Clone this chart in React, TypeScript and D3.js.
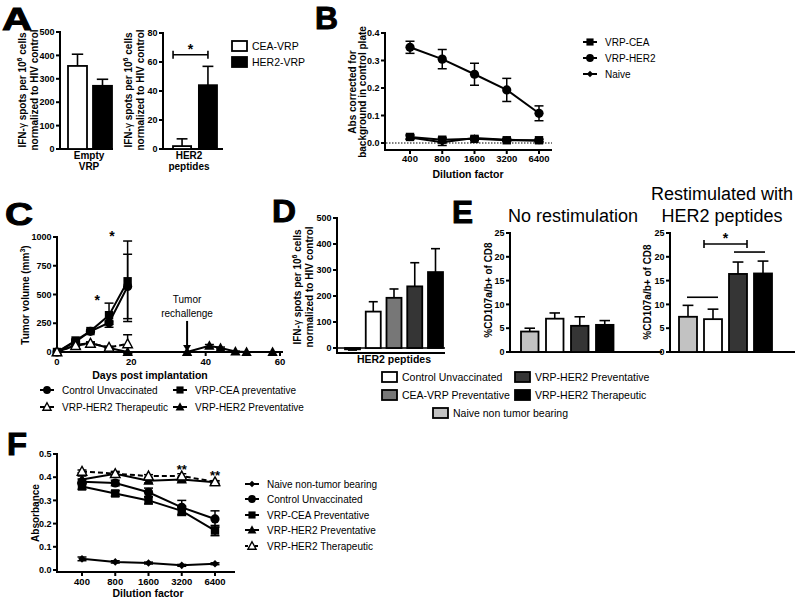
import React from 'react';
import * as d3 from 'd3';

const FONT = "'Liberation Sans', Arial, Helvetica, sans-serif";

// ---------- Panel A ----------
const aSeries = ['CEA-VRP', 'HER2-VRP'];
const aSeriesFill = ['#ffffff', '#000000'];
const aEmptyVRP = [355, 270];
const aEmptyVRPErr = [50, 28];
const aHER2Pep = [2, 44];
const aHER2PepErr = [5, 13];
const aLeftTicks = [0, 100, 200, 300, 400, 500];
const aRightTicks = [0, 20, 40, 60, 80];
const aSigValue = [65];

// ---------- Panel B ----------
const dilutions = ['400', '800', '1600', '3200', '6400'];
const bCEA = [0.022, 0.012, 0.015, 0.010, 0.010];
const bCEAErr = [0.008, 0.008, 0.005, 0.005, 0.005];
const bHER2 = [0.348, 0.305, 0.250, 0.193, 0.108];
const bHER2Err = [0.022, 0.035, 0.040, 0.042, 0.027];
const bNaive = [0.020, 0.003, 0.018, 0.012, 0.008];
const bNaiveErr = [0.006, 0.012, 0.006, 0.005, 0.004];
const bTicks = [0, 0.1, 0.2, 0.3, 0.4];
const bLegend = ['VRP-CEA', 'VRP-HER2', 'Naive'];

// ---------- Panel C ----------
const cDaysEarly = [0, 5, 9, 14, 19];
const cControl = [0, 90, 180, 255, 570];
const cControlErr = [0, 10, 10, 15, 280];
const cCEA = [0, 100, 182, 320, 615];
const cCEAErr = [0, 12, 10, 105, 350];
const cTher = [0, 55, 75, 40, 70];
const cTherErr = [0, 6, 10, 10, 80];
const cPrevDays = [0, 5, 9, 14, 19, 35, 41, 44, 48, 51, 58];
const cPrev = [0, 60, 78, 35, 0, 0, 55, 35, 5, 0, 0];
const cPrevErr = [0, 8, 10, 8, 0, 0, 10, 8, 3, 0, 0];
const cXTicks = [0, 20, 40, 60];
const cYTicks = [0, 250, 500, 750, 1000];
const cStarDays = [10.8, 14.8];
const cStarVals = [480, 1035];
const cRechallenge = [35];
const cLegend = ['Control Unvaccinated', 'VRP-CEA preventative', 'VRP-HER2 Therapeutic', 'VRP-HER2 Preventative'];

// ---------- Panel D ----------
const groups = ['Naive non tumor bearing', 'Control Unvaccinated', 'CEA-VRP Preventative', 'VRP-HER2 Preventative', 'VRP-HER2 Therapeutic'];
const groupFill = ['#c2c2c2', '#ffffff', '#777777', '#353535', '#000000'];
const dValues = [-5, 140, 193, 237, 292];
const dErr = [3, 38, 34, 91, 90];
const dTicks = [0, 100, 200, 300, 400, 500];

// ---------- Panel E ----------
const eGroups = ['Naive non tumor bearing', 'Control Unvaccinated', 'VRP-HER2 Preventative', 'VRP-HER2 Therapeutic'];
const eNoRestim = [4.3, 7.0, 5.5, 5.7];
const eNoRestimErr = [0.7, 1.2, 1.9, 0.9];
const eRestim = [7.4, 6.9, 16.4, 16.5];
const eRestimErr = [2.4, 2.1, 2.5, 2.6];
const eTicks = [0, 5, 10, 15, 20, 25];
const eSigValues = [22.7, 21, 11.5];

// ---------- Panel F ----------
const fNaive = [0.048, 0.035, 0.030, 0.020, 0.027];
const fNaiveErr = [0.008, 0.005, 0.004, 0.004, 0.004];
const fControl = [0.380, 0.375, 0.335, 0.270, 0.220];
const fControlErr = [0.012, 0.012, 0.018, 0.030, 0.035];
const fCEA = [0.360, 0.330, 0.300, 0.255, 0.170];
const fCEAErr = [0.012, 0.012, 0.015, 0.020, 0.022];
const fHER2Prev = [0.390, 0.415, 0.385, 0.390, 0.378];
const fHER2PrevErr = [0.015, 0.010, 0.010, 0.010, 0.006];
const fHER2Ther = [0.425, 0.415, 0.405, 0.405, 0.380];
const fHER2TherErr = [0.006, 0.006, 0.006, 0.010, 0.005];
const fTicks = [0, 0.1, 0.2, 0.3, 0.4, 0.5];
const fStarDil = ['3200', '6400'];
const fStarVals = [0.447, 0.422];
const fLegend = ['Naive non-tumor bearing', 'Control Unvaccinated', 'VRP-CEA Preventative', 'VRP-HER2 Preventative', 'VRP-HER2 Therapeutic'];

type MarkerType = 'circle' | 'square' | 'tri' | 'triOpen' | 'diamond';

function Marker({ type, x, y, s = 1 }: { type: MarkerType; x: number; y: number; s?: number }) {
  if (type === 'circle') return <circle cx={x} cy={y} r={4.6 * s} fill="#000" />;
  if (type === 'square') return <rect x={x - 4.2 * s} y={y - 4.2 * s} width={8.4 * s} height={8.4 * s} fill="#000" />;
  if (type === 'tri') return <path d={`M${x},${y - 5.5 * s}L${x + 5.2 * s},${y + 4 * s}L${x - 5.2 * s},${y + 4 * s}Z`} fill="#000" />;
  if (type === 'triOpen') return <path d={`M${x},${y - 5 * s}L${x + 4.8 * s},${y + 3.8 * s}L${x - 4.8 * s},${y + 3.8 * s}Z`} fill="#fff" stroke="#000" strokeWidth={1.4} />;
  return <path d={`M${x},${y - 3.8 * s}L${x + 3.8 * s},${y}L${x},${y + 3.8 * s}L${x - 3.8 * s},${y}Z`} fill="#000" />;
}

function YAxis({ x, scale, ticks, fmt, bottom }: { x: number; scale: d3.ScaleLinear<number, number>; ticks: number[]; fmt: (v: number) => string; bottom?: number }) {
  const top = scale(ticks[ticks.length - 1]);
  const bot = bottom ?? scale(ticks[0]);
  return (
    <g>
      <line x1={x} x2={x} y1={top - 1} y2={bot + 1} stroke="#000" strokeWidth={2} />
      {ticks.map((t) => (
        <g key={t}>
          <line x1={x - 4} x2={x} y1={scale(t)} y2={scale(t)} stroke="#000" strokeWidth={2} />
          <text x={x - 5.5} y={scale(t)} dy="0.36em" textAnchor="end" fontSize={9} fontWeight="bold">{fmt(t)}</text>
        </g>
      ))}
    </g>
  );
}

function XLine({ y, x0, x1 }: { y: number; x0: number; x1: number }) {
  return <line x1={x0} x2={x1} y1={y} y2={y} stroke="#000" strokeWidth={2} />;
}

function XTicks({ y, positions, labels, labelDy = 12 }: { y: number; positions: number[]; labels: string[]; labelDy?: number }) {
  return (
    <g>
      {positions.map((p, i) => (
        <g key={i}>
          <line x1={p} x2={p} y1={y} y2={y + 4} stroke="#000" strokeWidth={2} />
          <text x={p} y={y + labelDy} textAnchor="middle" fontSize={9.5} fontWeight="bold">{labels[i]}</text>
        </g>
      ))}
    </g>
  );
}

function RotTitle({ x, y, children, size = 10 }: { x: number; y: number; children: React.ReactNode; size?: number }) {
  return (
    <text transform={`translate(${x},${y}) rotate(-90)`} textAnchor="middle" fontSize={size} fontWeight="bold">{children}</text>
  );
}

function Bars({ xScale, yScale, cats, values, errs, fills }: { xScale: d3.ScaleBand<string>; yScale: d3.ScaleLinear<number, number>; cats: string[]; values: number[]; errs: number[]; fills: string[] }) {
  const w = xScale.bandwidth();
  return (
    <g>
      {cats.map((c, i) => {
        const x = xScale(c) as number;
        const y0 = yScale(0);
        const y1 = yScale(values[i]);
        const ey = values[i] >= 0 ? yScale(values[i] + errs[i]) : yScale(values[i] - errs[i]);
        const cx = x + w / 2;
        return (
          <g key={c}>
            <line x1={cx} x2={cx} y1={y1} y2={ey} stroke="#000" strokeWidth={1.6} />
            <line x1={cx - w * 0.3} x2={cx + w * 0.3} y1={ey} y2={ey} stroke="#000" strokeWidth={1.6} />
            <rect x={x} y={Math.min(y0, y1)} width={w} height={Math.max(Math.abs(y1 - y0), 1)} fill={fills[i]} stroke="#000" strokeWidth={1.8} />
          </g>
        );
      })}
    </g>
  );
}

function Series({ px, ys, errs, yScale, marker, dashed, ms = 1 }: { px: number[]; ys: number[]; errs: number[]; yScale: d3.ScaleLinear<number, number>; marker: MarkerType; dashed?: boolean; ms?: number }) {
  const line = d3.line<number>().x((_, i) => px[i]).y((d) => yScale(d));
  return (
    <g>
      {ys.map((v, i) =>
        errs[i] > 0 ? (
          <g key={'e' + i}>
            <line x1={px[i]} x2={px[i]} y1={yScale(v - errs[i])} y2={yScale(v + errs[i])} stroke="#000" strokeWidth={1.5} />
            <line x1={px[i] - 4.5} x2={px[i] + 4.5} y1={yScale(v - errs[i])} y2={yScale(v - errs[i])} stroke="#000" strokeWidth={1.5} />
            <line x1={px[i] - 4.5} x2={px[i] + 4.5} y1={yScale(v + errs[i])} y2={yScale(v + errs[i])} stroke="#000" strokeWidth={1.5} />
          </g>
        ) : null
      )}
      <path d={line(ys) || ''} fill="none" stroke="#000" strokeWidth={2} strokeDasharray={dashed ? '5,3' : undefined} />
      {ys.map((v, i) => (
        <Marker key={'m' + i} type={marker} x={px[i]} y={yScale(v)} s={ms} />
      ))}
    </g>
  );
}

function LineLegendItem({ x, y, marker, label, dashed, ms = 1, size = 10 }: { x: number; y: number; marker: MarkerType; label: string; dashed?: boolean; ms?: number; size?: number }) {
  return (
    <g>
      <line x1={x - 7} x2={x + 7} y1={y} y2={y} stroke="#000" strokeWidth={2} strokeDasharray={dashed ? '3,2' : undefined} />
      <Marker type={marker} x={x} y={y} s={ms * 0.85} />
      <text x={x + 15} y={y} dy="0.35em" fontSize={size}>{label}</text>
    </g>
  );
}

function BoxLegendItem({ x, y, fill, label }: { x: number; y: number; fill: string; label: string }) {
  return (
    <g>
      <rect x={x} y={y - 5} width={15} height={10} fill={fill} stroke="#000" strokeWidth={1.8} />
      <text x={x + 20} y={y} dy="0.35em" fontSize={10.5}>{label}</text>
    </g>
  );
}

function Letter({ x, y, ch, w }: { x: number; y: number; ch: string; w: number }) {
  return (
    <text x={x} y={y} fontSize={32} fontWeight={900} stroke="#000" strokeWidth={1} textLength={w} lengthAdjust="spacingAndGlyphs">{ch}</text>
  );
}

export default function App() {
  // ----- A -----
  const aY1 = d3.scaleLinear().domain([0, 500]).range([149, 32]);
  const aX1 = d3.scaleBand<string>().domain(aSeries).range([68, 112]).paddingInner(0.24).paddingOuter(0);
  const aY2 = d3.scaleLinear().domain([0, 80]).range([149, 33]);
  const aX2 = d3.scaleBand<string>().domain(aSeries).range([173, 217]).paddingInner(0.3).paddingOuter(0);
  const aBr0 = (aX2(aSeries[0]) as number) + aX2.bandwidth() / 2 + 3;
  const aBr1 = (aX2(aSeries[1]) as number) + aX2.bandwidth() / 2;

  // ----- B -----
  const bY = d3.scaleLinear().domain([0, 0.4]).range([143, 33]);
  const bX = d3.scalePoint<string>().domain(dilutions).range([410, 539]);
  const bPx = dilutions.map((d) => bX(d) as number);

  // ----- C -----
  const cY = d3.scaleLinear().domain([0, 1000]).range([352, 237]);
  const cX = d3.scaleLinear().domain([0, 60]).range([57, 280]);

  // ----- D -----
  const dY = d3.scaleLinear().domain([0, 500]).range([348, 218]);
  const dX = d3.scaleBand<string>().domain(groups).range([345, 443]).paddingInner(0.277).paddingOuter(0);

  // ----- E -----
  const eY1 = d3.scaleLinear().domain([0, 25]).range([352, 233]);
  const eX1 = d3.scaleBand<string>().domain(eGroups).range([521, 613.5]).paddingInner(0.3).paddingOuter(0);
  const eY2 = d3.scaleLinear().domain([0, 25]).range([352, 233]);
  const eX2 = d3.scaleBand<string>().domain(eGroups).range([679, 772]).paddingInner(0.28).paddingOuter(0);
  const eFill = eGroups.map((g) => groupFill[groups.indexOf(g)]);
  const eC = (i: number) => (eX2(eGroups[i]) as number) + eX2.bandwidth() / 2;

  // ----- F -----
  const fY = d3.scaleLinear().domain([0, 0.5]).range([570, 454]);
  const fX = d3.scalePoint<string>().domain(dilutions).range([82, 215]);
  const fPx = dilutions.map((d) => fX(d) as number);

  const fmt0 = d3.format('d');
  const fmt1 = d3.format('.1f');

  return (
    <svg width={800} height={600} style={{ position: 'absolute', left: 0, top: 0, background: '#fff' }} fontFamily={FONT}>
      <rect x={0} y={0} width={800} height={600} fill="#fff" />

      {/* ================= A ================= */}
      <Letter x={2} y={30} ch="A" w={30} />
      <YAxis x={60} scale={aY1} ticks={aLeftTicks} fmt={fmt0} />
      <XLine y={149} x0={60} x1={113} />
      <Bars xScale={aX1} yScale={aY1} cats={aSeries} values={aEmptyVRP} errs={aEmptyVRPErr} fills={aSeriesFill} />
      <text x={89} y={159} textAnchor="middle" fontSize={10} fontWeight="bold">Empty</text>
      <text x={89} y={170} textAnchor="middle" fontSize={10} fontWeight="bold">VRP</text>
      <RotTitle x={26} y={90}>IFN-<tspan fontWeight="normal">γ</tspan> spots per 10<tspan dy={-4} fontSize={7}>6</tspan><tspan dy={4}> cells</tspan></RotTitle>
      <RotTitle x={37.5} y={90}>normalized to HIV control</RotTitle>

      <YAxis x={163} scale={aY2} ticks={aRightTicks} fmt={fmt0} />
      <XLine y={149} x0={163} x1={223} />
      <Bars xScale={aX2} yScale={aY2} cats={aSeries} values={aHER2Pep} errs={aHER2PepErr} fills={aSeriesFill} />
      <line x1={aBr0 - 12} x2={aBr1} y1={aY2(aSigValue[0])} y2={aY2(aSigValue[0])} stroke="#000" strokeWidth={1.6} />
      <line x1={aBr0 - 12} x2={aBr0 - 12} y1={aY2(aSigValue[0]) - 4} y2={aY2(aSigValue[0]) + 4} stroke="#000" strokeWidth={1.6} />
      <line x1={aBr1} x2={aBr1} y1={aY2(aSigValue[0]) - 4} y2={aY2(aSigValue[0]) + 4} stroke="#000" strokeWidth={1.6} />
      <text x={(aBr0 - 12 + aBr1) / 2} y={aY2(aSigValue[0]) - 1} textAnchor="middle" fontSize={14} fontWeight="bold">*</text>
      <text x={189} y={159} textAnchor="middle" fontSize={10} fontWeight="bold">HER2</text>
      <text x={189} y={170} textAnchor="middle" fontSize={10} fontWeight="bold">peptides</text>
      <RotTitle x={132} y={90}>IFN-<tspan fontWeight="normal">γ</tspan> spots per 10<tspan dy={-4} fontSize={7}>6</tspan><tspan dy={4}> cells</tspan></RotTitle>
      <RotTitle x={143.5} y={90}>normalized to HIV control</RotTitle>

      {aSeries.map((s, i) => (
        <BoxLegendItem key={s} x={232} y={46 + i * 16} fill={aSeriesFill[i]} label={s} />
      ))}

      {/* ================= B ================= */}
      <Letter x={315} y={29} ch="B" w={23} />
      <YAxis x={385} scale={bY} ticks={bTicks} fmt={fmt1} bottom={150} />
      <XLine y={150} x0={385} x1={552} />
      <line x1={386} x2={552} y1={bY(0)} y2={bY(0)} stroke="#000" strokeWidth={1} strokeDasharray="1.5,1.5" />
      <XTicks y={150} positions={bPx} labels={dilutions} />
      <text x={468} y={178} textAnchor="middle" fontSize={10.5} fontWeight="bold">Dilution factor</text>
      <RotTitle x={356} y={92}>Abs corrected for</RotTitle>
      <RotTitle x={366} y={92}>background in control plate</RotTitle>
      <Series px={bPx} ys={bNaive} errs={bNaiveErr} yScale={bY} marker="diamond" />
      <Series px={bPx} ys={bCEA} errs={bCEAErr} yScale={bY} marker="square" />
      <Series px={bPx} ys={bHER2} errs={bHER2Err} yScale={bY} marker="circle" />
      <LineLegendItem x={590} y={42} marker="square" label={bLegend[0]} />
      <LineLegendItem x={590} y={58} marker="circle" label={bLegend[1]} />
      <LineLegendItem x={590} y={74} marker="diamond" label={bLegend[2]} />

      {/* ================= C ================= */}
      <Letter x={5} y={225} ch="C" w={28} />
      <YAxis x={57} scale={cY} ticks={cYTicks} fmt={fmt0} />
      <XLine y={352} x0={57} x1={283} />
      <XTicks y={352} positions={cXTicks.map((d) => cX(d))} labels={cXTicks.map((d) => fmt0(d))} labelDy={13} />
      <text x={150} y={379} textAnchor="middle" fontSize={10.5} fontWeight="bold">Days post implantation</text>
      <RotTitle x={29} y={295}>Tumor volume (mm<tspan dy={-4} fontSize={7}>3</tspan><tspan dy={4}>)</tspan></RotTitle>
      <Series px={cDaysEarly.map((d) => cX(d))} ys={cControl} errs={cControlErr} yScale={cY} marker="circle" />
      <Series px={cDaysEarly.map((d) => cX(d))} ys={cCEA} errs={cCEAErr} yScale={cY} marker="square" />
      <Series px={cPrevDays.map((d) => cX(d))} ys={cPrev} errs={cPrevErr} yScale={cY} marker="tri" />
      <Series px={cDaysEarly.map((d) => cX(d))} ys={cTher} errs={cTherErr} yScale={cY} marker="triOpen" dashed />
      {cStarDays.map((d, i) => (
        <text key={i} x={cX(d)} y={cY(cStarVals[i]) + 8} textAnchor="middle" fontSize={14} fontWeight="bold">*</text>
      ))}
      <line x1={cX(cRechallenge[0])} x2={cX(cRechallenge[0])} y1={cY(270)} y2={cY(40)} stroke="#000" strokeWidth={2} />
      <path d={`M${cX(cRechallenge[0]) - 4},${cY(60)}L${cX(cRechallenge[0]) + 4},${cY(60)}L${cX(cRechallenge[0])},${cY(5)}Z`} fill="#000" />
      <text x={cX(cRechallenge[0])} y={303} textAnchor="middle" fontSize={10}>Tumor</text>
      <text x={cX(cRechallenge[0])} y={317} textAnchor="middle" fontSize={10}>rechallenge</text>
      <LineLegendItem x={47} y={390} marker="circle" label={cLegend[0]} />
      <LineLegendItem x={180} y={390} marker="square" label={cLegend[1]} />
      <LineLegendItem x={47} y={407} marker="triOpen" label={cLegend[2]} />
      <LineLegendItem x={180} y={407} marker="tri" label={cLegend[3]} />

      {/* ================= D ================= */}
      <Letter x={272} y={222} ch="D" w={24} />
      <YAxis x={337} scale={dY} ticks={dTicks} fmt={fmt0} bottom={353} />
      <XLine y={353} x0={337} x1={445} />
      <line x1={337} x2={445} y1={dY(0)} y2={dY(0)} stroke="#000" strokeWidth={1.5} />
      <Bars xScale={dX} yScale={dY} cats={groups} values={dValues} errs={dErr} fills={groupFill} />
      <text x={394} y={363} textAnchor="middle" fontSize={10.5} fontWeight="bold">HER2 peptides</text>
      <RotTitle x={301} y={287}>IFN-<tspan fontWeight="normal">γ</tspan> spots per 10<tspan dy={-4} fontSize={7}>6</tspan><tspan dy={4}> cells</tspan></RotTitle>
      <RotTitle x={312.5} y={287}>normalized to HIV control</RotTitle>

      <BoxLegendItem x={382} y={377} fill={groupFill[1]} label={groups[1]} />
      <BoxLegendItem x={382} y={395} fill={groupFill[2]} label={groups[2]} />
      <BoxLegendItem x={515} y={377} fill={groupFill[3]} label={groups[3]} />
      <BoxLegendItem x={515} y={395} fill={groupFill[4]} label={groups[4]} />
      <BoxLegendItem x={433} y={413} fill={groupFill[0]} label={groups[0]} />

      {/* ================= E ================= */}
      <Letter x={452} y={223} ch="E" w={21} />
      <text x={573} y={222} textAnchor="middle" fontSize={18}>No restimulation</text>
      <text x={722} y={200} textAnchor="middle" fontSize={18}>Restimulated with</text>
      <text x={722} y={222} textAnchor="middle" fontSize={18}>HER2 peptides</text>

      <YAxis x={510} scale={eY1} ticks={eTicks} fmt={fmt0} />
      <XLine y={352} x0={510} x1={662} />
      <Bars xScale={eX1} yScale={eY1} cats={eGroups} values={eNoRestim} errs={eNoRestimErr} fills={eFill} />
      <RotTitle x={492} y={290}>%CD107a/b+ of CD8</RotTitle>

      <YAxis x={670} scale={eY2} ticks={eTicks} fmt={fmt0} />
      <XLine y={352} x0={670} x1={795} />
      <Bars xScale={eX2} yScale={eY2} cats={eGroups} values={eRestim} errs={eRestimErr} fills={eFill} />
      <RotTitle x={651} y={292}>%CD107a/b+ of CD8</RotTitle>
      <line x1={eX2(eGroups[1]) as number} x2={(eX2(eGroups[2]) as number) + eX2.bandwidth()} y1={eY2(eSigValues[0])} y2={eY2(eSigValues[0])} stroke="#000" strokeWidth={1.6} />
      <line x1={eX2(eGroups[1]) as number} x2={eX2(eGroups[1]) as number} y1={eY2(eSigValues[0]) - 4} y2={eY2(eSigValues[0]) + 4} stroke="#000" strokeWidth={1.6} />
      <line x1={(eX2(eGroups[2]) as number) + eX2.bandwidth()} x2={(eX2(eGroups[2]) as number) + eX2.bandwidth()} y1={eY2(eSigValues[0]) - 4} y2={eY2(eSigValues[0]) + 4} stroke="#000" strokeWidth={1.6} />
      <text x={((eX2(eGroups[1]) as number) + (eX2(eGroups[2]) as number) + eX2.bandwidth()) / 2} y={eY2(eSigValues[0]) - 1} textAnchor="middle" fontSize={14} fontWeight="bold">*</text>
      <line x1={eC(2) - 4} x2={eC(3) + 2} y1={eY2(eSigValues[1])} y2={eY2(eSigValues[1])} stroke="#000" strokeWidth={1.6} />
      <line x1={eC(0) - 1} x2={eC(1) + 5} y1={eY2(eSigValues[2])} y2={eY2(eSigValues[2])} stroke="#000" strokeWidth={1.6} />

      {/* ================= F ================= */}
      <Letter x={7} y={455} ch="F" w={20} />
      <YAxis x={57} scale={fY} ticks={fTicks} fmt={fmt1} bottom={572} />
      <XLine y={572} x0={57} x1={235} />
      <XTicks y={572} positions={fPx} labels={dilutions} labelDy={13} />
      <text x={148} y={597} textAnchor="middle" fontSize={10.5} fontWeight="bold">Dilution factor</text>
      <RotTitle x={39} y={513}>Absorbance</RotTitle>
      <Series px={fPx} ys={fNaive} errs={fNaiveErr} yScale={fY} marker="diamond" />
      <Series px={fPx} ys={fCEA} errs={fCEAErr} yScale={fY} marker="square" />
      <Series px={fPx} ys={fControl} errs={fControlErr} yScale={fY} marker="circle" />
      <Series px={fPx} ys={fHER2Prev} errs={fHER2PrevErr} yScale={fY} marker="tri" />
      <Series px={fPx} ys={fHER2Ther} errs={fHER2TherErr} yScale={fY} marker="triOpen" dashed />
      {fStarDil.map((d, i) => (
        <text key={d} x={fX(d) as number} y={fY(fStarVals[i]) + 8} textAnchor="middle" fontSize={13} fontWeight="bold">**</text>
      ))}
      <LineLegendItem x={252} y={484} marker="diamond" label={fLegend[0]} />
      <LineLegendItem x={252} y={499} marker="circle" label={fLegend[1]} />
      <LineLegendItem x={252} y={515} marker="square" label={fLegend[2]} />
      <LineLegendItem x={252} y={530} marker="tri" label={fLegend[3]} />
      <LineLegendItem x={252} y={546} marker="triOpen" label={fLegend[4]} dashed />
    </svg>
  );
}
